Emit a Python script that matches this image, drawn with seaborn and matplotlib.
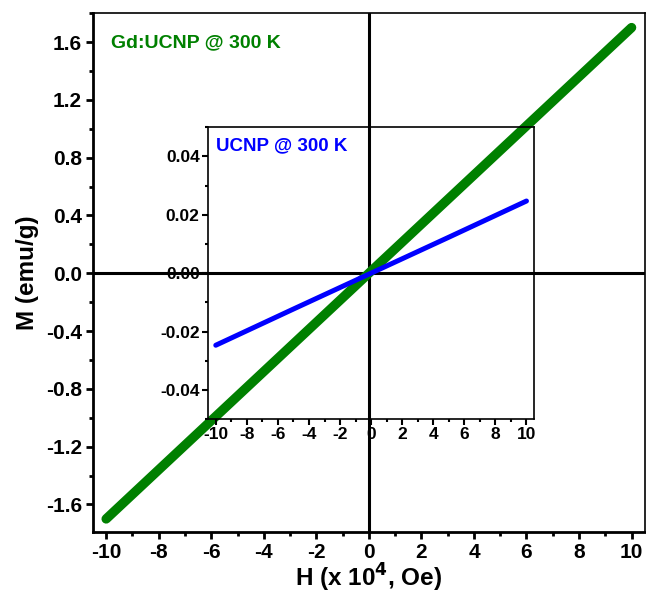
import matplotlib
matplotlib.use("Agg")
import matplotlib.pyplot as plt
import seaborn as sns
import pandas as pd
from matplotlib.ticker import MultipleLocator

# Data
H_gd = [-10, -5, -1, 0, 1, 5, 10]
M_gd = [-1.70, -0.85, -0.17, 0.0, 0.17, 0.85, 1.70]
H_ucnp = [-10, -5, 0, 5, 10]
M_ucnp = [-0.0247, -0.0123, 0.0, 0.0123, 0.0247]
x_ticks = [-10, -8, -6, -4, -2, 0, 2, 4, 6, 8, 10]
y_ticks_main = [-1.6, -1.2, -0.8, -0.4, 0.0, 0.4, 0.8, 1.2, 1.6]
y_ticks_inset = [-0.04, -0.02, 0.00, 0.02, 0.04]

sns.set_theme(style="ticks")
plt.rcParams['font.family'] = ['Liberation Sans', 'DejaVu Sans']
plt.rcParams['font.weight'] = 'bold'
plt.rcParams['mathtext.default'] = 'bf'
for k in ['text.color', 'axes.labelcolor', 'xtick.color', 'ytick.color',
          'xtick.labelcolor', 'ytick.labelcolor', 'axes.edgecolor']:
    plt.rcParams[k] = 'black'

df_gd = pd.DataFrame({"H": H_gd, "M": M_gd})
df_u = pd.DataFrame({"H": H_ucnp, "M": M_ucnp})

fig = plt.figure(figsize=(6.46, 5.97), dpi=100)
ax = fig.add_axes([0.144, 0.109, 0.854, 0.869])

ax.axhline(0, color="black", lw=2.2, zorder=1)
ax.axvline(0, color="black", lw=2.2, zorder=1)
sns.lineplot(data=df_gd, x="H", y="M", ax=ax, color="#008000", lw=6.8,
             solid_capstyle="round", zorder=3, legend=False)
ax.set_xlim(-10.5, 10.5)
ax.set_ylim(-1.79, 1.8)
ax.set_xticks(x_ticks)
ax.set_xticklabels([str(t) for t in x_ticks])
ax.set_yticks(y_ticks_main)
ax.set_yticklabels([f"{t:.1f}" for t in y_ticks_main])
ax.xaxis.set_minor_locator(MultipleLocator(1))
ax.yaxis.set_minor_locator(MultipleLocator(0.2))
ax.tick_params(axis="both", which="major", direction="out", length=5, width=2,
               labelsize=15, color="black", labelcolor="black", pad=3)
ax.tick_params(axis="both", which="minor", direction="out", length=3, width=2,
               color="black")
for lab in ax.get_xticklabels() + ax.get_yticklabels():
    lab.set_fontweight("bold")
for s in ["left", "bottom"]:
    ax.spines[s].set_linewidth(2.0)
    ax.spines[s].set_color("black")
for s in ["top", "right"]:
    ax.spines[s].set_linewidth(1.2)
    ax.spines[s].set_color("black")
ax.set_xlabel(r"H (x 10$^{4}$, Oe)", fontsize=17.5, fontweight="bold",
              labelpad=0, color="black")
ax.set_ylabel("M (emu/g)", fontsize=17.5, fontweight="bold", labelpad=5,
              color="black")
ax.text(0.032, 0.96, "Gd:UCNP @ 300 K", transform=ax.transAxes, color="#008000",
        fontsize=14, fontweight="bold", va="top", ha="left")

# Inset
axi = fig.add_axes([0.322, 0.298, 0.505, 0.489])
axi.patch.set_alpha(0)
sns.lineplot(data=df_u, x="H", y="M", ax=axi, color="#0000FF", lw=3.6,
             zorder=4, legend=False)
axi.set_xlim(-10.5, 10.5)
axi.set_ylim(-0.05, 0.05)
axi.set_xticks(x_ticks)
axi.set_xticklabels([str(t) for t in x_ticks])
axi.set_yticks(y_ticks_inset)
axi.set_yticklabels([f"{t:.2f}" for t in y_ticks_inset])
axi.xaxis.set_minor_locator(MultipleLocator(1))
axi.yaxis.set_minor_locator(MultipleLocator(0.01))
axi.tick_params(axis="both", which="major", direction="out", length=4, width=1.5,
                labelsize=12.5, color="black", labelcolor="black", pad=2)
axi.tick_params(axis="both", which="minor", direction="out", length=2.5, width=1.5,
                color="black")
for lab in axi.get_xticklabels() + axi.get_yticklabels():
    lab.set_fontweight("bold")
for s in axi.spines.values():
    s.set_linewidth(1.2)
    s.set_color("black")
axi.set_xlabel("")
axi.set_ylabel("")
axi.text(0.025, 0.965, "UCNP @ 300 K", transform=axi.transAxes, color="#0000FF",
         fontsize=13.5, fontweight="bold", va="top", ha="left")

fig.savefig("out.png", dpi=100)
